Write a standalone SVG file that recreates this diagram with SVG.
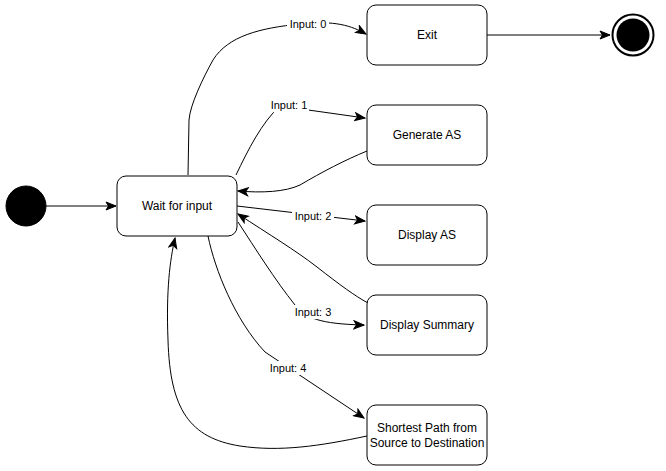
<svg xmlns="http://www.w3.org/2000/svg" width="666" height="471" viewBox="0 0 666 471">
<defs>
<style>
.node{fill:#fff;stroke:#000;stroke-width:1}
.lbl{font-family:"Liberation Sans",Arial,sans-serif;font-size:12px;fill:#000;text-anchor:middle;dominant-baseline:central}
.elbl{font-family:"Liberation Sans",Arial,sans-serif;font-size:11px;fill:#000;text-anchor:middle;dominant-baseline:central}
.bg{fill:#fff}
.edge{fill:none;stroke:#000;stroke-width:1}
</style>
<marker id="arr" markerUnits="userSpaceOnUse" markerWidth="12" markerHeight="10" viewBox="0 0 12 10" refX="11" refY="5" orient="auto">
<path d="M1,1 L11,5 L1,9 L3.5,5 Z" fill="#000" stroke="#000" stroke-width="1"/>
</marker>
</defs>
<rect width="666" height="471" fill="#fff"/>
<g id="connectors">
<path class="edge" d="M46,206 L116,206" marker-end="url(#arr)"/>
<path class="edge" d="M487,35 L610,35" marker-end="url(#arr)"/>
<path class="edge" d="M188,175 L189,120 C190,105 203,78 213,60 C228,36 260,28 300,24 C335,20 352,26 366,34" marker-end="url(#arr)"/>
<path class="edge" d="M236,175 C248,150 262,122 280,106 L365,118" marker-end="url(#arr)"/>
<path class="edge" d="M367,151 C345,160 322,172 300,185 C285,192 262,193 238,191" marker-end="url(#arr)"/>
<path class="edge" d="M237,206 L365,221" marker-end="url(#arr)"/>
<path class="edge" d="M368,303 C355,296 340,285 317,267 C295,250 270,235 238,214" marker-end="url(#arr)"/>
<path class="edge" d="M238,222 C255,248 275,280 295,305 C305,318 320,324 364,325" marker-end="url(#arr)"/>
<path class="edge" d="M208,236 C215,270 235,320 265,352 L364,418" marker-end="url(#arr)"/>
<path class="edge" d="M367,436 C320,446 280,452 240,446 C190,438 170,410 168,340 C166,290 170,260 175,238" marker-end="url(#arr)"/>
<rect class="bg" x="287" y="17" width="42" height="14"/>
<text class="elbl" x="308" y="24">Input: 0</text>
<rect class="bg" x="269" y="98" width="40" height="14"/>
<text class="elbl" x="289" y="105">Input: 1</text>
<rect class="bg" x="292" y="209" width="42" height="14"/>
<text class="elbl" x="313" y="216">Input: 2</text>
<rect class="bg" x="292" y="305" width="42" height="14"/>
<text class="elbl" x="313" y="312">Input: 3</text>
<rect class="bg" x="267" y="361" width="42" height="14"/>
<text class="elbl" x="288" y="368">Input: 4</text>
</g>
<g id="start"><circle cx="26" cy="206" r="20" fill="#000" stroke="#000"/></g>
<g id="wait"><rect class="node" x="117" y="176" width="120" height="60" rx="9"/><text class="lbl" x="177" y="206">Wait for input</text></g>
<g id="exit"><rect class="node" x="367" y="5" width="120" height="60" rx="9"/><text class="lbl" x="427" y="35">Exit</text></g>
<g id="generate"><rect class="node" x="367" y="105" width="120" height="60" rx="9"/><text class="lbl" x="427" y="135">Generate AS</text></g>
<g id="display"><rect class="node" x="367" y="205" width="120" height="60" rx="9"/><text class="lbl" x="427" y="235">Display AS</text></g>
<g id="summary"><rect class="node" x="367" y="295" width="120" height="60" rx="9"/><text class="lbl" x="427" y="325">Display Summary</text></g>
<g id="shortest"><rect class="node" x="367" y="405" width="120" height="60" rx="9"/><text class="lbl" x="427" y="428">Shortest Path from</text><text class="lbl" x="427" y="443">Source to Destination</text></g>
<g id="end"><circle cx="633" cy="35" r="20.5" fill="#fff" stroke="#000" stroke-width="2"/><circle cx="633" cy="35" r="16.5" fill="#000"/></g>
</svg>
